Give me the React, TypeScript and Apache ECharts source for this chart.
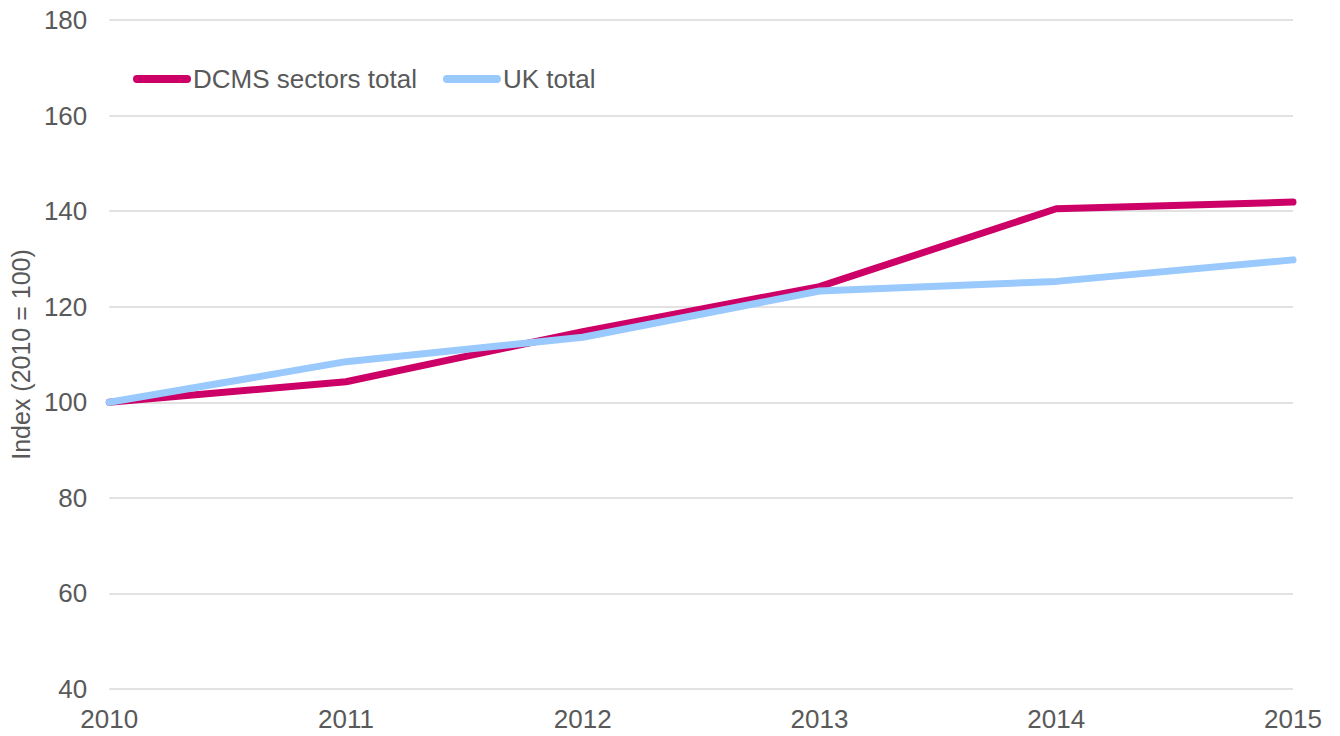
import React, { useEffect, useRef } from "react";
import * as echarts from "echarts";

const years = ["2010", "2011", "2012", "2013", "2014", "2015"];
const dcmsValues = [100, 104.3, 114.8, 124.2, 140.5, 141.9];
const ukValues = [100, 108.5, 113.6, 123.3, 125.3, 129.8];
const seriesNames = ["DCMS sectors total", "UK total"];
const yAxisTitle = "Index (2010 = 100)";

const FONT = "Liberation Sans";
const TEXT = "#595959";
const ICON = "path://M4,0 L54,0 A4,4 0 0 1 54,8 L4,8 A4,4 0 0 1 4,0 Z";

export default function App() {
  const ref = useRef<HTMLDivElement>(null);
  useEffect(() => {
    document.body.style.margin = "0";
    const chart = echarts.init(ref.current!, null, { renderer: "svg" });
    chart.setOption({
      animation: false,
      backgroundColor: "#ffffff",
      textStyle: { fontFamily: FONT },
      grid: { left: 100, right: 47, top: 20, bottom: 47, containLabel: false },
      legend: {
        left: 128,
        top: 61,
        itemWidth: 58,
        itemHeight: 8,
        itemGap: 26,
        textStyle: { color: TEXT, fontSize: 26, fontFamily: FONT, padding: [0, 0, 0, -3] },
        data: [
          { name: seriesNames[0], icon: ICON },
          { name: seriesNames[1], icon: ICON },
        ],
      },
      xAxis: {
        type: "category",
        data: years,
        boundaryGap: false,
        axisLine: { show: false },
        axisTick: { show: false },
        axisLabel: { color: TEXT, fontSize: 26, margin: 17, fontFamily: FONT },
        splitLine: { show: false },
      },
      yAxis: {
        type: "value",
        min: 40,
        max: 180,
        interval: 20,
        name: yAxisTitle,
        nameLocation: "middle",
        nameGap: 66,
        nameTextStyle: { color: TEXT, fontSize: 25, fontFamily: FONT },
        axisLine: { show: false },
        axisTick: { show: false },
        axisLabel: { color: TEXT, fontSize: 26, margin: 22, fontFamily: FONT },
        splitLine: { lineStyle: { color: "#d9d9d9", width: 1.5 } },
      },
      series: [
        {
          name: seriesNames[0],
          type: "line",
          data: dcmsValues,
          showSymbol: false,
          symbol: "none",
          lineStyle: { color: "#cc0066", width: 7, cap: "round", join: "round" },
          itemStyle: { color: "#cc0066" },
        },
        {
          name: seriesNames[1],
          type: "line",
          data: ukValues,
          showSymbol: false,
          symbol: "none",
          lineStyle: { color: "#99c9fd", width: 7, cap: "round", join: "round" },
          itemStyle: { color: "#99c9fd" },
        },
      ],
    });
    return () => chart.dispose();
  }, []);
  return (
    <div
      ref={ref}
      style={{ position: "fixed", left: 0, top: 0, width: 1340, height: 736 }}
    />
  );
}
